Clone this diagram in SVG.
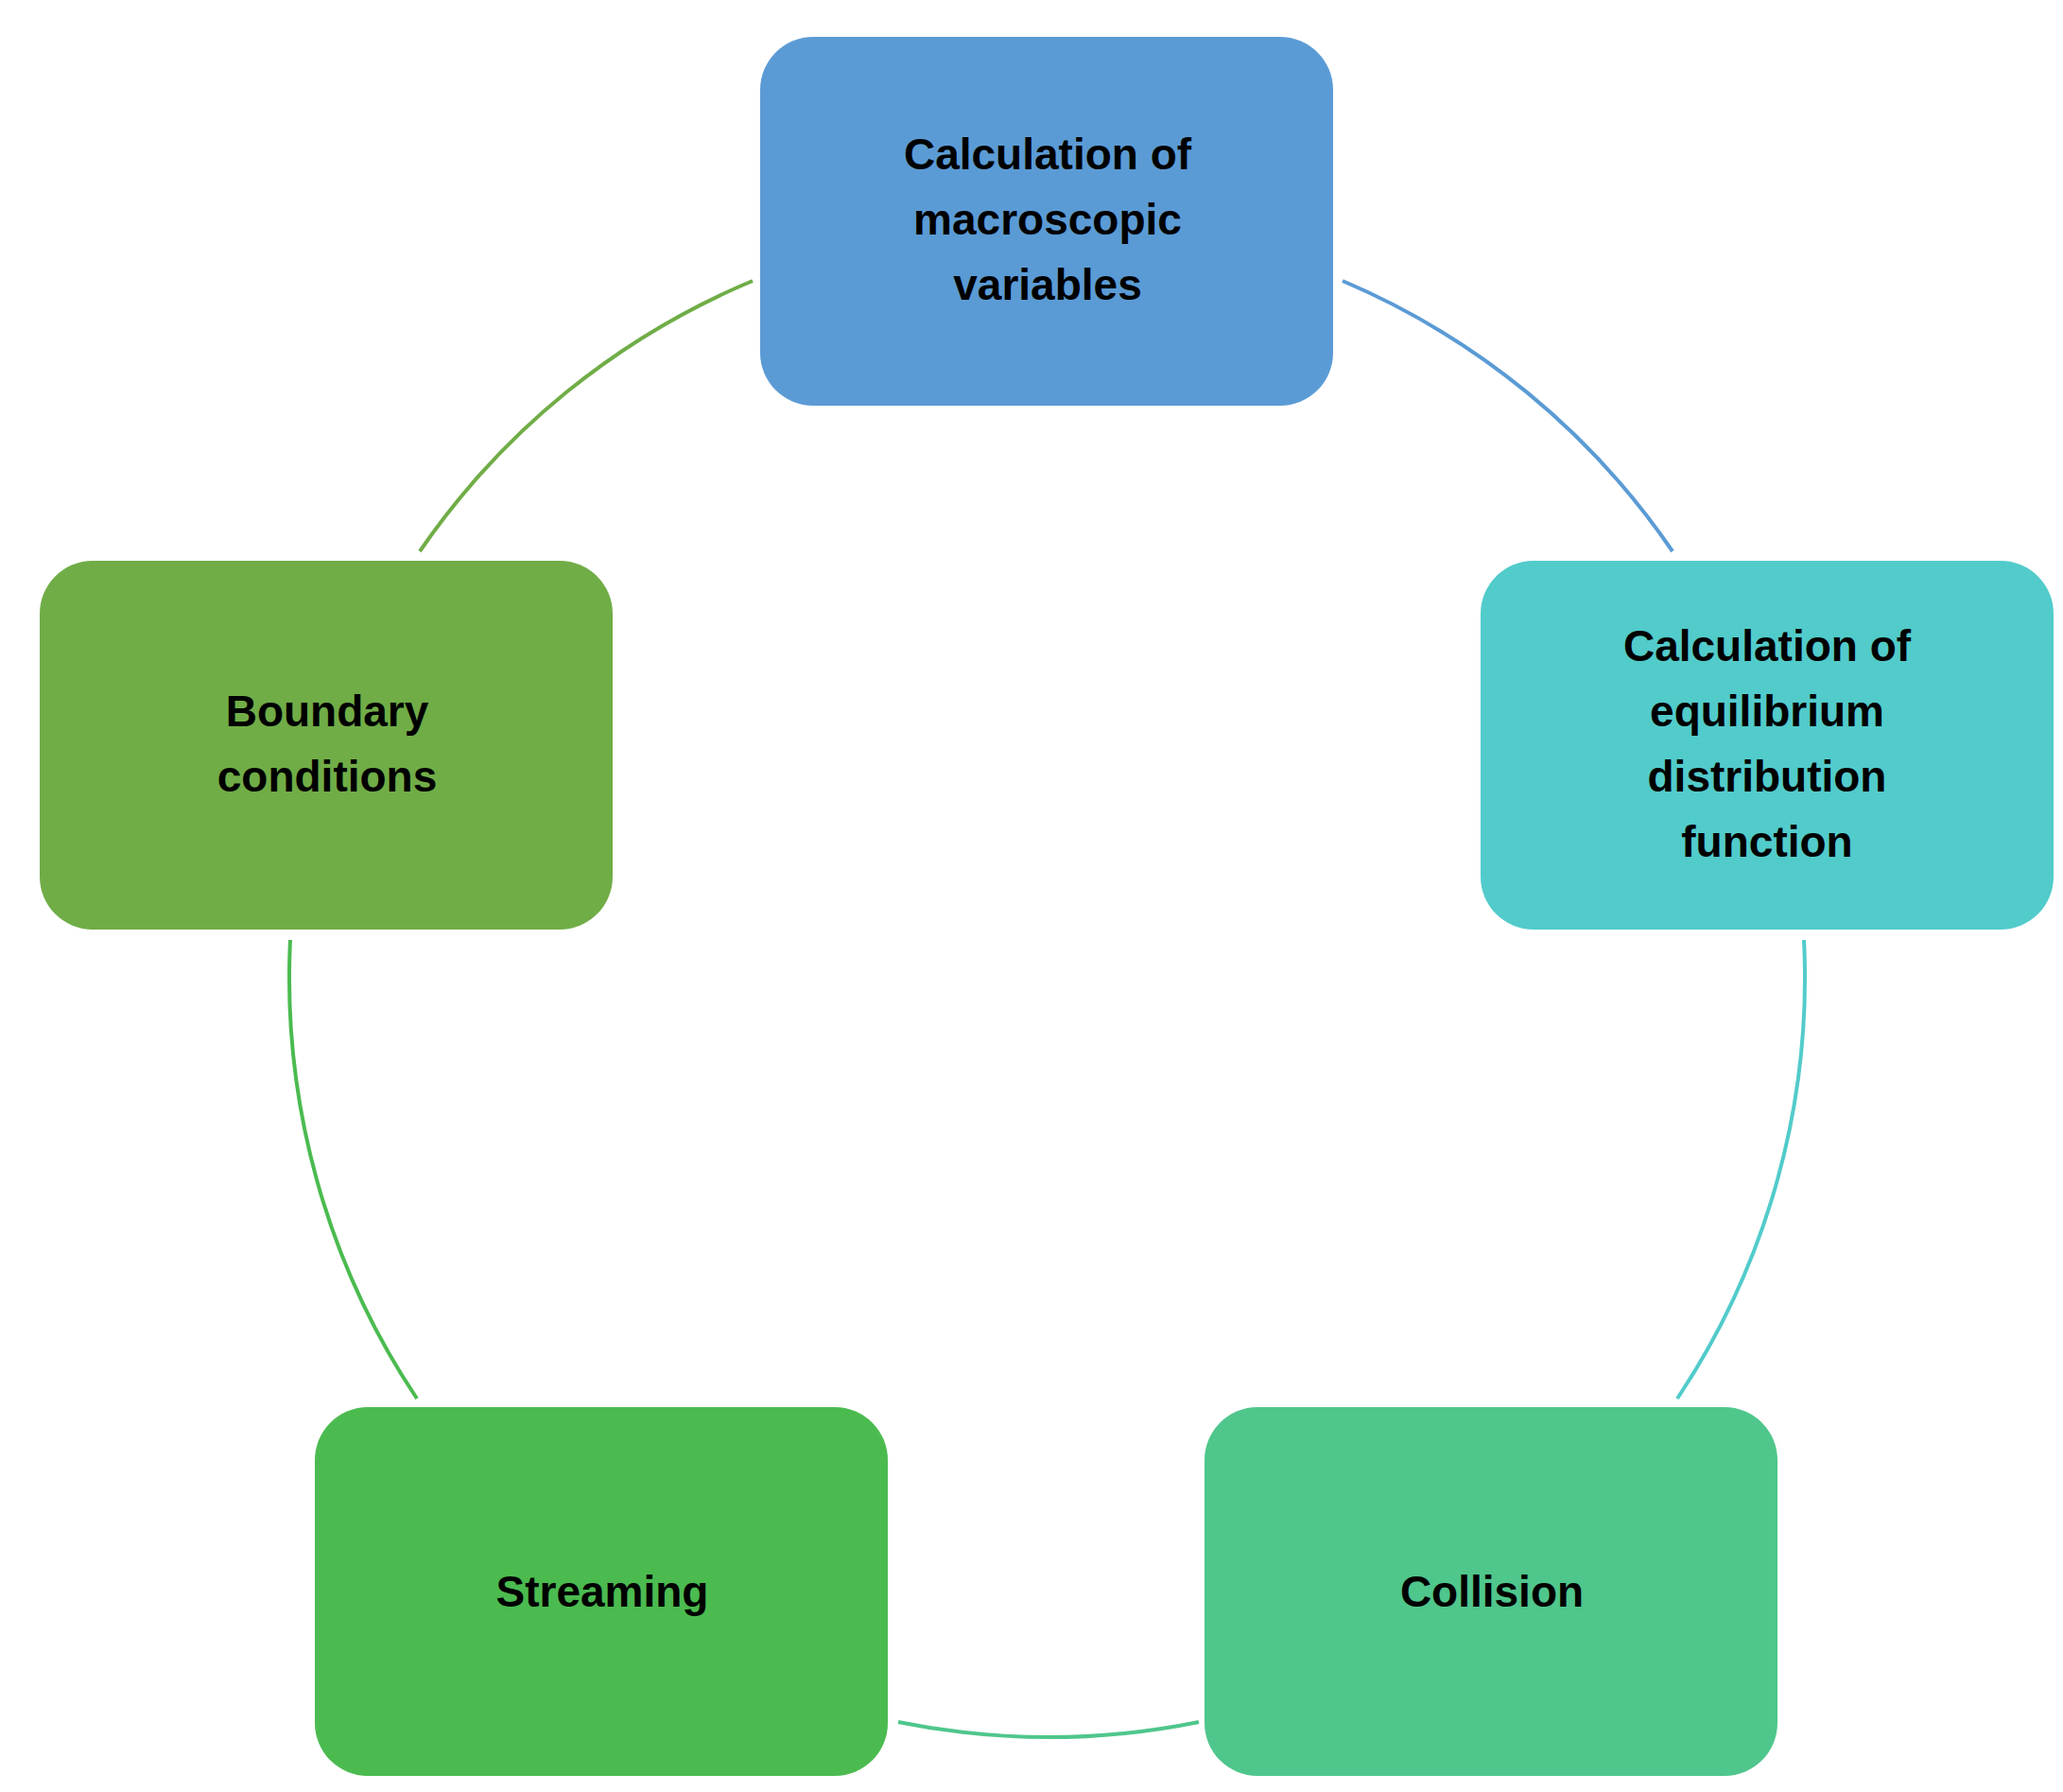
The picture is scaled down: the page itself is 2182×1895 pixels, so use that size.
<svg xmlns="http://www.w3.org/2000/svg" width="2182" height="1895" viewBox="0 0 2182 1895">
<style>
.box{stroke:none}
.t{font-family:"Liberation Sans",Arial,sans-serif;font-weight:bold;font-size:46px;text-anchor:middle;fill:#000}
.arc{fill:none;stroke-width:4}
</style>
<rect width="2182" height="1895" fill="#fff"/>
<g id="connectors">
<path class="arc" stroke="#70AD47" d="M444,583 A801,801 0 0 1 796,297"/>
<path class="arc" stroke="#5B9BD5" d="M1420,297 A801,801 0 0 1 1769,583"/>
<path class="arc" stroke="#52CBCB" d="M1908,994 A801,801 0 0 1 1774,1479"/>
<path class="arc" stroke="#4FC68C" d="M1268,1821 A801,801 0 0 1 950,1821"/>
<path class="arc" stroke="#4BBB50" d="M441,1479 A801,801 0 0 1 307,994"/>
</g>
<g id="macro">
<rect class="box" x="804" y="39" width="606" height="390" rx="56" fill="#5B9BD5"/>
<text class="t" x="1108" y="179">Calculation of</text>
<text class="t" x="1108" y="248">macroscopic</text>
<text class="t" x="1108" y="317">variables</text>
</g>
<g id="equilibrium">
<rect class="box" x="1566" y="593" width="606" height="390" rx="56" fill="#52CBCB"/>
<text class="t" x="1869" y="699">Calculation of</text>
<text class="t" x="1869" y="768">equilibrium</text>
<text class="t" x="1869" y="837">distribution</text>
<text class="t" x="1869" y="906">function</text>
</g>
<g id="boundary">
<rect class="box" x="42" y="593" width="606" height="390" rx="56" fill="#70AD47"/>
<text class="t" x="346" y="768">Boundary</text>
<text class="t" x="346" y="837">conditions</text>
</g>
<g id="streaming">
<rect class="box" x="333" y="1488" width="606" height="390" rx="56" fill="#4BBB50"/>
<text class="t" x="637" y="1699">Streaming</text>
</g>
<g id="collision">
<rect class="box" x="1274" y="1488" width="606" height="390" rx="56" fill="#4FC68C"/>
<text class="t" x="1578" y="1699">Collision</text>
</g>
</svg>
